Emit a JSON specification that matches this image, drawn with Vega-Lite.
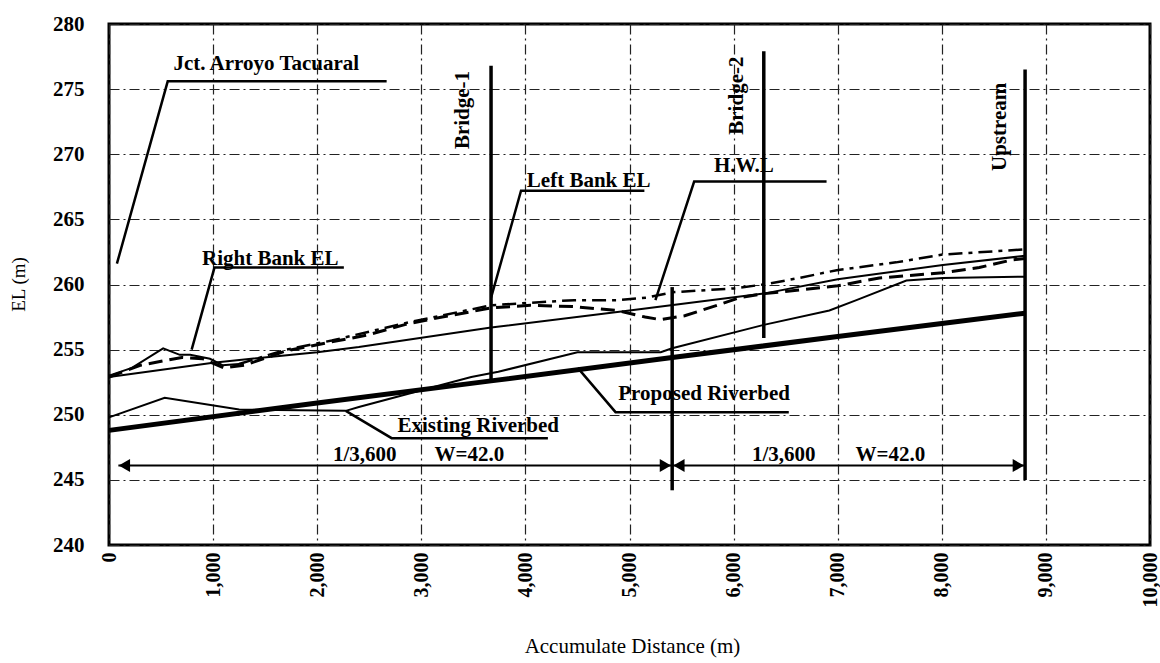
{
  "$schema": "https://vega.github.io/schema/vega-lite/v6.json",
  "width": 1041,
  "height": 521,
  "autosize": "none",
  "padding": {"left": 109, "top": 24, "right": 10, "bottom": 118},
  "background": "white",
  "config": {
    "view": {"stroke": "black", "strokeWidth": 3},
    "font": "Liberation Serif",
    "text": {"font": "Liberation Serif", "fontSize": 22, "color": "black"}
  },
  "datasets": {
    "profile": [
      {"s": "Proposed Riverbed", "x": 0, "y": 248.8},
      {"s": "Proposed Riverbed", "x": 2000, "y": 250.9},
      {"s": "Proposed Riverbed", "x": 3670, "y": 252.6},
      {"s": "Proposed Riverbed", "x": 5410, "y": 254.4},
      {"s": "Proposed Riverbed", "x": 7000, "y": 256.0},
      {"s": "Proposed Riverbed", "x": 8000, "y": 257.0},
      {"s": "Proposed Riverbed", "x": 8800, "y": 257.8},
      {"s": "Existing Riverbed", "x": 0, "y": 249.8},
      {"s": "Existing Riverbed", "x": 535, "y": 251.3},
      {"s": "Existing Riverbed", "x": 1250, "y": 250.4},
      {"s": "Existing Riverbed", "x": 2275, "y": 250.3},
      {"s": "Existing Riverbed", "x": 2400, "y": 250.6},
      {"s": "Existing Riverbed", "x": 3200, "y": 252.3},
      {"s": "Existing Riverbed", "x": 3480, "y": 252.9},
      {"s": "Existing Riverbed", "x": 3740, "y": 253.3},
      {"s": "Existing Riverbed", "x": 4500, "y": 254.8},
      {"s": "Existing Riverbed", "x": 5300, "y": 254.8},
      {"s": "Existing Riverbed", "x": 5410, "y": 255.1},
      {"s": "Existing Riverbed", "x": 6290, "y": 256.9},
      {"s": "Existing Riverbed", "x": 6920, "y": 258.0},
      {"s": "Existing Riverbed", "x": 7180, "y": 258.8},
      {"s": "Existing Riverbed", "x": 7660, "y": 260.3},
      {"s": "Existing Riverbed", "x": 8010, "y": 260.5},
      {"s": "Existing Riverbed", "x": 8800, "y": 260.6},
      {"s": "H.W.L", "x": 0, "y": 252.9},
      {"s": "H.W.L", "x": 1000, "y": 254.0},
      {"s": "H.W.L", "x": 2000, "y": 254.8},
      {"s": "H.W.L", "x": 2400, "y": 255.2},
      {"s": "H.W.L", "x": 3670, "y": 256.7},
      {"s": "H.W.L", "x": 5000, "y": 258.0},
      {"s": "H.W.L", "x": 6290, "y": 259.3},
      {"s": "H.W.L", "x": 7000, "y": 260.4},
      {"s": "H.W.L", "x": 8010, "y": 261.5},
      {"s": "H.W.L", "x": 8800, "y": 262.2},
      {"s": "Left Bank EL", "x": 0, "y": 252.9},
      {"s": "Left Bank EL", "x": 300, "y": 253.8},
      {"s": "Left Bank EL", "x": 700, "y": 254.4},
      {"s": "Left Bank EL", "x": 900, "y": 254.3},
      {"s": "Left Bank EL", "x": 1100, "y": 253.6},
      {"s": "Left Bank EL", "x": 1300, "y": 253.8},
      {"s": "Left Bank EL", "x": 1700, "y": 254.9},
      {"s": "Left Bank EL", "x": 2140, "y": 255.6},
      {"s": "Left Bank EL", "x": 2470, "y": 256.1},
      {"s": "Left Bank EL", "x": 2880, "y": 257.0},
      {"s": "Left Bank EL", "x": 3200, "y": 257.5},
      {"s": "Left Bank EL", "x": 3670, "y": 258.2},
      {"s": "Left Bank EL", "x": 4050, "y": 258.4},
      {"s": "Left Bank EL", "x": 4470, "y": 258.3},
      {"s": "Left Bank EL", "x": 4880, "y": 258.0},
      {"s": "Left Bank EL", "x": 5150, "y": 257.5},
      {"s": "Left Bank EL", "x": 5300, "y": 257.3},
      {"s": "Left Bank EL", "x": 5530, "y": 257.6},
      {"s": "Left Bank EL", "x": 5840, "y": 258.4},
      {"s": "Left Bank EL", "x": 6060, "y": 259.0},
      {"s": "Left Bank EL", "x": 6300, "y": 259.3},
      {"s": "Left Bank EL", "x": 7000, "y": 259.9},
      {"s": "Left Bank EL", "x": 7400, "y": 260.5},
      {"s": "Left Bank EL", "x": 8010, "y": 260.9},
      {"s": "Left Bank EL", "x": 8360, "y": 261.3},
      {"s": "Left Bank EL", "x": 8680, "y": 261.9},
      {"s": "Left Bank EL", "x": 8800, "y": 262.0},
      {"s": "Right Bank EL (lower reach)", "x": 0, "y": 253.0},
      {"s": "Right Bank EL (lower reach)", "x": 220, "y": 253.6},
      {"s": "Right Bank EL (lower reach)", "x": 520, "y": 255.1},
      {"s": "Right Bank EL (lower reach)", "x": 680, "y": 254.6},
      {"s": "Right Bank EL (lower reach)", "x": 780, "y": 254.6},
      {"s": "Right Bank EL (lower reach)", "x": 970, "y": 254.3},
      {"s": "Right Bank EL (lower reach)", "x": 1090, "y": 253.8},
      {"s": "Right Bank EL (lower reach)", "x": 1250, "y": 253.9},
      {"s": "Right Bank EL", "x": 1250, "y": 253.9},
      {"s": "Right Bank EL", "x": 1700, "y": 255.0},
      {"s": "Right Bank EL", "x": 2140, "y": 255.7},
      {"s": "Right Bank EL", "x": 2880, "y": 257.1},
      {"s": "Right Bank EL", "x": 3670, "y": 258.4},
      {"s": "Right Bank EL", "x": 4050, "y": 258.6},
      {"s": "Right Bank EL", "x": 4470, "y": 258.8},
      {"s": "Right Bank EL", "x": 4880, "y": 258.8},
      {"s": "Right Bank EL", "x": 5170, "y": 259.0},
      {"s": "Right Bank EL", "x": 5410, "y": 259.4},
      {"s": "Right Bank EL", "x": 6000, "y": 259.7},
      {"s": "Right Bank EL", "x": 6290, "y": 260.0},
      {"s": "Right Bank EL", "x": 6630, "y": 260.5},
      {"s": "Right Bank EL", "x": 6990, "y": 261.1},
      {"s": "Right Bank EL", "x": 7560, "y": 261.7},
      {"s": "Right Bank EL", "x": 8010, "y": 262.3},
      {"s": "Right Bank EL", "x": 8610, "y": 262.6},
      {"s": "Right Bank EL", "x": 8800, "y": 262.7}
    ],
    "markers": [
      {"name": "Bridge-1", "x": 3670, "y": 252.5, "y2": 276.8},
      {"name": "Bridge-2", "x": 6290, "y": 255.9, "y2": 277.9},
      {"name": "Upstream", "x": 8800, "y": 245.0, "y2": 276.5},
      {"name": "Division", "x": 5410, "y": 244.2, "y2": 259.8}
    ],
    "leaders": [
      {"id": "jct", "o": 1, "x": 76, "y": 261.6},
      {"id": "jct", "o": 2, "x": 564, "y": 275.6},
      {"id": "jct", "o": 3, "x": 2667, "y": 275.6},
      {"id": "rb", "o": 1, "x": 794, "y": 255.0},
      {"id": "rb", "o": 2, "x": 1013, "y": 261.3},
      {"id": "rb", "o": 3, "x": 2256, "y": 261.3},
      {"id": "lb", "o": 1, "x": 3671, "y": 259.0},
      {"id": "lb", "o": 2, "x": 3958, "y": 267.2},
      {"id": "lb", "o": 3, "x": 5143, "y": 267.2},
      {"id": "hwl", "o": 1, "x": 5249, "y": 258.8},
      {"id": "hwl", "o": 2, "x": 5621, "y": 267.9},
      {"id": "hwl", "o": 3, "x": 6893, "y": 267.9},
      {"id": "prop", "o": 1, "x": 4503, "y": 253.6},
      {"id": "prop", "o": 2, "x": 4866, "y": 250.2},
      {"id": "prop", "o": 3, "x": 6530, "y": 250.2},
      {"id": "exist", "o": 1, "x": 2275, "y": 250.3},
      {"id": "exist", "o": 2, "x": 2715, "y": 248.2},
      {"id": "exist", "o": 3, "x": 4216, "y": 248.2}
    ],
    "labels": [
      {"t": "Jct. Arroyo Tacuaral", "x": 1511, "y": 276.5},
      {"t": "Right Bank EL", "x": 1549, "y": 261.5},
      {"t": "Left Bank EL", "x": 4608, "y": 267.5},
      {"t": "H.W.L", "x": 6099, "y": 268.6},
      {"t": "Proposed Riverbed", "x": 5717, "y": 251.1},
      {"t": "Existing Riverbed", "x": 3547, "y": 248.66},
      {"t": "1/3,600", "x": 2457, "y": 246.44},
      {"t": "W=42.0", "x": 3461, "y": 246.44},
      {"t": "1/3,600", "x": 6482, "y": 246.44},
      {"t": "W=42.0", "x": 7505, "y": 246.44}
    ],
    "vlabels": [
      {"t": "Bridge-1", "x": 3403, "y": 273.4},
      {"t": "Bridge-2", "x": 6033, "y": 274.5},
      {"t": "Upstream", "x": 8557, "y": 272.1}
    ],
    "dims": [
      {"x": 90, "x2": 5410, "y": 246.1},
      {"x": 5410, "x2": 8800, "y": 246.1}
    ],
    "heads": [
      {"dir": "L", "x": 148, "y": 246.1},
      {"dir": "R", "x": 5345, "y": 246.1},
      {"dir": "L", "x": 5475, "y": 246.1},
      {"dir": "R", "x": 8735, "y": 246.1}
    ]
  },
  "layer": [
    {
      "data": {"name": "profile"},
      "transform": [{"filter": "datum.s === 'Proposed Riverbed'"}],
      "mark": {"type": "line", "color": "black", "strokeWidth": 5},
      "encoding": {
        "x": {
          "field": "x", "type": "quantitative",
          "scale": {"domain": [0, 10000], "nice": false, "zero": false},
          "axis": {
            "title": "Accumulate Distance (m)",
            "values": [0, 1000, 2000, 3000, 4000, 5000, 6000, 7000, 8000, 9000, 10000],
            "format": ",.0f",
            "labelAngle": -90,
            "labelFont": "Liberation Serif",
            "labelFontSize": 20,
            "labelFontWeight": "bold",
            "labelColor": "black",
            "labelPadding": 7,
            "labelFlush": false,
            "labelOverlap": false,
            "ticks": false,
            "domain": false,
            "grid": true,
            "gridColor": "#222",
            "gridWidth": 1.2,
            "gridDash": [10, 4, 2, 4],
            "titleFont": "Liberation Serif",
            "titleFontSize": 21,
            "titleFontWeight": "normal",
            "titleColor": "black",
            "titleX": 523,
            "titleY": 107,
            "titleAlign": "center",
            "titleBaseline": "alphabetic"
          }
        },
        "y": {
          "field": "y", "type": "quantitative",
          "scale": {"domain": [240, 280], "nice": false, "zero": false},
          "axis": {
            "title": "EL (m)",
            "values": [240, 245, 250, 255, 260, 265, 270, 275, 280],
            "labelFont": "Liberation Serif",
            "labelFontSize": 21,
            "labelFontWeight": "bold",
            "labelColor": "black",
            "labelPadding": 25,
            "labelFlush": false,
            "labelOverlap": false,
            "ticks": false,
            "domain": false,
            "grid": true,
            "gridColor": "#222",
            "gridWidth": 1.2,
            "gridDash": [10, 4, 2, 4],
            "titleFont": "Liberation Serif",
            "titleFontSize": 19,
            "titleFontWeight": "normal",
            "titleColor": "black",
            "titleAngle": -90,
            "titleX": -91,
            "titleY": 260,
            "titleAlign": "center",
            "titleBaseline": "middle"
          }
        }
      }
    },
    {
      "data": {"name": "profile"},
      "transform": [{"filter": "datum.s === 'Existing Riverbed' || datum.s === 'H.W.L' || datum.s === 'Right Bank EL (lower reach)'"}],
      "mark": {"type": "line", "color": "black", "strokeWidth": 2},
      "encoding": {
        "x": {"field": "x", "type": "quantitative"},
        "y": {"field": "y", "type": "quantitative"},
        "detail": {"field": "s"}
      }
    },
    {
      "data": {"name": "profile"},
      "transform": [{"filter": "datum.s === 'Left Bank EL'"}],
      "mark": {"type": "line", "color": "black", "strokeWidth": 3, "strokeDash": [14, 7]},
      "encoding": {
        "x": {"field": "x", "type": "quantitative"},
        "y": {"field": "y", "type": "quantitative"}
      }
    },
    {
      "data": {"name": "profile"},
      "transform": [{"filter": "datum.s === 'Right Bank EL'"}],
      "mark": {"type": "line", "color": "black", "strokeWidth": 2.5, "strokeDash": [14, 6, 4, 6]},
      "encoding": {
        "x": {"field": "x", "type": "quantitative"},
        "y": {"field": "y", "type": "quantitative"}
      }
    },
    {
      "data": {"name": "markers"},
      "mark": {"type": "rule", "color": "black", "strokeWidth": 3.5},
      "encoding": {
        "x": {"field": "x", "type": "quantitative"},
        "y": {"field": "y", "type": "quantitative"},
        "y2": {"field": "y2"}
      }
    },
    {
      "data": {"name": "leaders"},
      "mark": {"type": "line", "color": "black", "strokeWidth": 2.5},
      "encoding": {
        "x": {"field": "x", "type": "quantitative"},
        "y": {"field": "y", "type": "quantitative"},
        "detail": {"field": "id"},
        "order": {"field": "o"}
      }
    },
    {
      "data": {"name": "dims"},
      "mark": {"type": "rule", "color": "black", "strokeWidth": 2},
      "encoding": {
        "x": {"field": "x", "type": "quantitative"},
        "x2": {"field": "x2"},
        "y": {"field": "y", "type": "quantitative"}
      }
    },
    {
      "data": {"name": "heads"},
      "mark": {"type": "point", "filled": true, "color": "black", "size": 170, "opacity": 1},
      "encoding": {
        "x": {"field": "x", "type": "quantitative"},
        "y": {"field": "y", "type": "quantitative"},
        "shape": {
          "field": "dir", "type": "nominal",
          "scale": {"domain": ["L", "R"], "range": ["triangle-left", "triangle-right"]},
          "legend": null
        }
      }
    },
    {
      "data": {"name": "labels"},
      "mark": {"type": "text", "align": "center", "baseline": "alphabetic", "fontSize": 21, "fontWeight": "bold", "font": "Liberation Serif", "color": "black"},
      "encoding": {
        "x": {"field": "x", "type": "quantitative"},
        "y": {"field": "y", "type": "quantitative"},
        "text": {"field": "t"}
      }
    },
    {
      "data": {"name": "vlabels"},
      "mark": {"type": "text", "align": "center", "baseline": "middle", "angle": 270, "fontSize": 21, "fontWeight": "bold", "font": "Liberation Serif", "color": "black"},
      "encoding": {
        "x": {"field": "x", "type": "quantitative"},
        "y": {"field": "y", "type": "quantitative"},
        "text": {"field": "t"}
      }
    }
  ]
}
